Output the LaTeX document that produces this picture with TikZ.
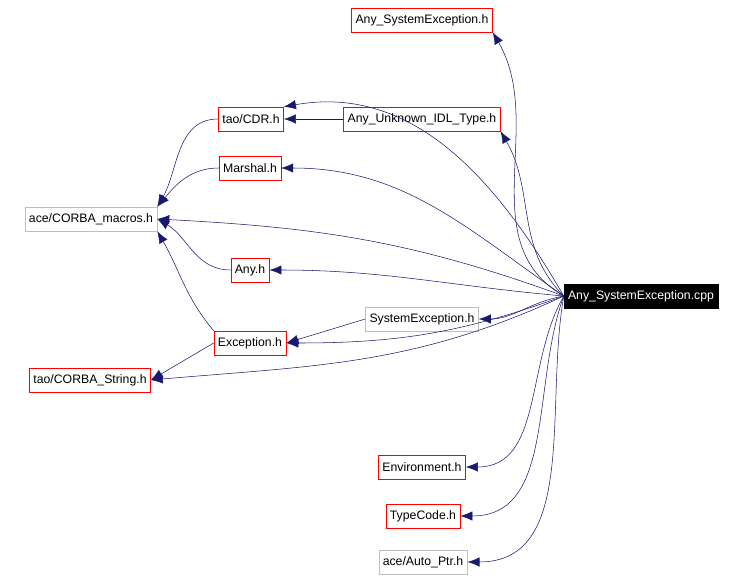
\documentclass[tikz,border=0pt]{standalone}
\usepackage{fontspec}
\setmainfont{Liberation Sans}
\usetikzlibrary{arrows.meta}
\definecolor{edgeblue}{RGB}{25,25,112}
\tikzset{
  file/.style={draw=red, fill=white, inner xsep=3pt, minimum height=18pt, font=\fontsize{9.2}{11}\selectfont},
  extfile/.style={file, draw=lightgray},
  mainfile/.style={file, draw=black, fill=black, text=white},
  dep/.style={draw=edgeblue, -{Latex[length=9pt,width=7pt]}}
}
\begin{document}
\begin{tikzpicture}[x=0.75pt,y=-0.75pt]
\useasboundingbox (0,0) rectangle (744,582);
\node[mainfile] (cpp) at (641,296) {Any\_SystemException.cpp};
\node[file] (anyseh) at (422,20) {Any\_SystemException.h};
\node[file] (cdr) at (251,119) {tao/CDR.h};
\node[file] (unknown) at (422,119) {Any\_Unknown\_IDL\_Type.h};
\node[file] (marshal) at (250,168) {Marshal.h};
\node[extfile] (macros) at (91,219) {ace/CORBA\_macros.h};
\node[file] (any) at (250,270) {Any.h};
\node[extfile] (sysexc) at (422,319) {SystemException.h};
\node[file] (exc) at (250,343) {Exception.h};
\node[file] (string) at (90,380) {tao/CORBA\_String.h};
\node[file] (env) at (422,467) {Environment.h};
\node[file] (tc) at (423,516) {TypeCode.h};
\node[extfile] (autoptr) at (423,562) {ace/Auto\_Ptr.h};

% from the main file
\draw[dep] (cpp.west) to[out=150,in=-60] (anyseh.south east);
\draw[dep] (cpp.west) to[out=120,in=10] (cdr.north east);
\draw[dep] (cpp.west) to[out=135,in=-60] (unknown.south east);
\draw[dep] (cpp.west) to[out=145,in=0] (marshal.east);
\draw[dep] (cpp.west) to[out=160,in=-3] (macros.east);
\draw[dep] (cpp.west) to[out=175,in=0] (any.east);
\draw[dep] (cpp.west) to[out=190,in=0] (sysexc.east);
\draw[dep] (cpp.west) to[out=200,in=0] (exc.east);
\draw[dep] (cpp.west) to[out=205,in=5] (string.east);
\draw[dep] (cpp.west) to[out=-120,in=0] (env.east);
\draw[dep] (cpp.west) to[out=-110,in=0] (tc.east);
\draw[dep] (cpp.west) to[out=-100,in=0] (autoptr.east);

% between headers
\draw[dep] (unknown) -- (cdr);
\draw[dep] (cdr.west) to[out=180,in=60] (macros.north east);
\draw[dep] (marshal.west) to[out=180,in=50] (macros.north east);
\draw[dep] (any.west) to[out=180,in=-30] (macros.east);
\draw[dep] (exc.north west) to[out=130,in=-60] (macros.south east);
\draw[dep] (exc.west) -- (string.east);
\draw[dep] (sysexc.west) -- (exc.east);
\end{tikzpicture}
\end{document}
